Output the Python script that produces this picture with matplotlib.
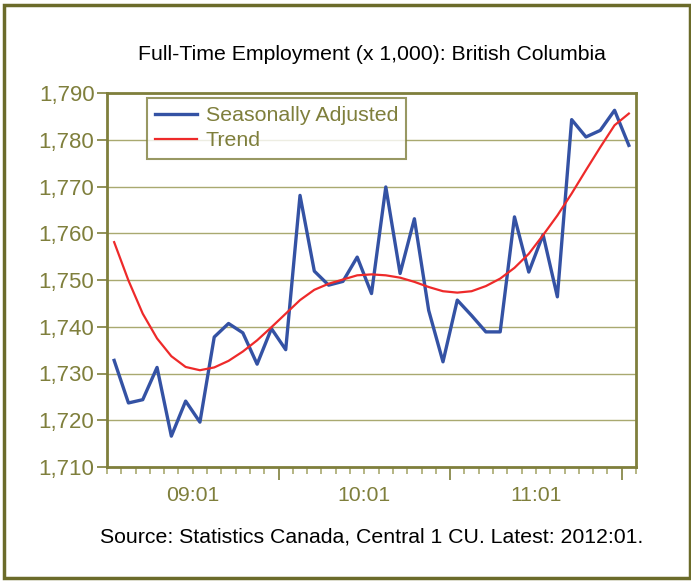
import matplotlib
matplotlib.use("Agg")
import matplotlib.pyplot as plt
from matplotlib.patches import Rectangle
from matplotlib.ticker import FixedLocator, FuncFormatter

plt.rcParams["font.family"] = ["Liberation Sans", "DejaVu Sans"]

# monthly data, 2009:01 .. 2012:01
months = list(range(37))

seasonally_adjusted = [
    1732.8, 1723.7, 1724.4, 1731.3, 1716.6, 1724.1, 1719.6, 1737.8, 1740.7,
    1738.7, 1732.0, 1739.6, 1735.1, 1768.1, 1751.9, 1748.9, 1749.7, 1754.9,
    1747.1, 1769.9, 1751.4, 1763.1, 1743.5, 1732.5, 1745.7, 1742.4, 1738.9,
    1738.9, 1763.5, 1751.7, 1759.7, 1746.4, 1784.3, 1780.6, 1782.0, 1786.3,
    1778.8,
]

trend = [
    1758.1, 1749.9, 1742.8, 1737.5, 1733.7, 1731.4, 1730.7, 1731.3, 1732.7,
    1734.7, 1737.1, 1739.9, 1742.8, 1745.7, 1747.9, 1749.2, 1750.1, 1751.0,
    1751.2, 1751.0, 1750.5, 1749.6, 1748.5, 1747.6, 1747.3, 1747.6, 1748.7,
    1750.3, 1752.6, 1755.6, 1759.6, 1763.8, 1768.5, 1773.5, 1778.4, 1783.1,
    1785.6,
]

year_labels = ["09:01", "10:01", "11:01"]
y_ticks = [1710, 1720, 1730, 1740, 1750, 1760, 1770, 1780, 1790]

OLIVE = "#7f7f3c"
OLIVE_DARK = "#6b6b2a"
GRID = "#a9a970"
BLUE = "#3452a4"
RED = "#ee2a2a"

fig = plt.figure(figsize=(6.91, 5.81), dpi=100)
ax = fig.add_axes([107 / 691, 1 - 467 / 581, 529 / 691, 374 / 581])

ax.plot(months, seasonally_adjusted, color=BLUE, lw=2.4,
        label="Seasonally Adjusted", zorder=3)
ax.plot(months, trend, color=RED, lw=1.6, label="Trend", zorder=4)

ax.set_xlim(-0.5, len(months) - 0.5)
ax.set_ylim(1710, 1790)

# y axis
ax.set_yticks(y_ticks)
ax.yaxis.set_major_formatter(FuncFormatter(lambda v, p: f"{int(v):,}"))
ax.grid(axis="y", color=GRID, lw=1.0)
ax.set_axisbelow(True)

# x axis: small ticks between months, long ticks between years,
# year labels centered on each 12-month block
ax.xaxis.set_major_locator(FixedLocator([11.5, 23.5, 35.5]))
ax.xaxis.set_minor_locator(FixedLocator([i - 0.5 for i in range(38)]))
ax.set_xticklabels([])
for i, lab in enumerate(year_labels):
    ax.text(5.5 + 12 * i, 1710 - 6.2, lab, ha="center", va="center",
            fontsize=15.3, color=OLIVE)

ax.tick_params(axis="x", which="major", length=9, width=1.2, color=OLIVE)
ax.tick_params(axis="x", which="minor", length=5, width=1.2, color=GRID)
ax.tick_params(axis="y", length=7, width=1.2, color=OLIVE,
               labelsize=16, labelcolor=OLIVE, pad=2)

for s in ax.spines.values():
    s.set_color(OLIVE)
    s.set_linewidth(2)

leg = ax.legend(loc="upper left", bbox_to_anchor=(0.0756, 0.987),
                fontsize=15.4, frameon=True, fancybox=False,
                handlelength=1.95, handletextpad=0.42, labelspacing=0.3,
                borderpad=0.38, borderaxespad=0)
leg.get_frame().set_edgecolor(OLIVE)
leg.get_frame().set_linewidth(1.5)
for t in leg.get_texts():
    t.set_color(OLIVE)

fig.text(372 / 691, 1 - 55 / 581,
         "Full-Time Employment (x 1,000): British Columbia",
         ha="center", va="center", fontsize=15.3, color="black")
fig.text(372 / 691, 1 - 537 / 581,
         "Source: Statistics Canada, Central 1 CU. Latest: 2012:01.",
         ha="center", va="center", fontsize=15.3, color="black")

# outer frame
fig.patches.append(Rectangle((3.5 / 691, 3.5 / 581), 686 / 691, 573 / 581,
                             transform=fig.transFigure, fill=False,
                             edgecolor=OLIVE_DARK, lw=2.5))

fig.savefig("out.png", dpi=100)
plt.close(fig)
